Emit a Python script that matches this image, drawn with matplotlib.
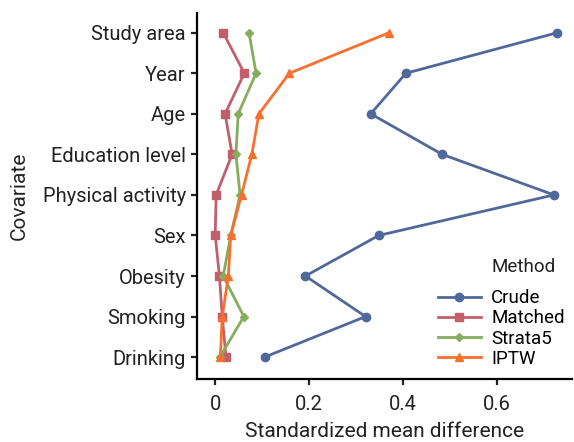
import matplotlib
matplotlib.use("Agg")
import matplotlib.pyplot as plt
import numpy as np

plt.rcParams['font.family'] = ['Liberation Sans Narrow', 'Roboto', 'DejaVu Sans']

# covariates from top to bottom
covariates = ['Study area', 'Year', 'Age', 'Education level', 'Physical activity',
              'Sex', 'Obesity', 'Smoking', 'Drinking']

crude = [0.728, 0.406, 0.331, 0.483, 0.721, 0.348, 0.192, 0.320, 0.105]
matched = [0.017, 0.062, 0.021, 0.036, 0.002, 0.000, 0.009, 0.015, 0.023]
strata5 = [0.072, 0.087, 0.049, 0.044, 0.053, 0.033, 0.017, 0.061, 0.010]
iptw = [0.370, 0.158, 0.093, 0.078, 0.056, 0.033, 0.028, 0.015, 0.011]

methods = ['Crude', 'Matched', 'Strata5', 'IPTW']
valores = [crude, matched, strata5, iptw]
cores = ['#51699a', '#c35f6b', '#85ad5d', '#f7702f']
marcadores = ['o', 's', 'D', '^']
tamanhos = [6, 5.5, 4.5, 5.5]

pos = np.arange(len(covariates), 0, -1)

fig = plt.figure(figsize=(5.74, 4.42), dpi=100)
ax = fig.add_axes([0.343, 0.1425, 0.654, 0.8285])

for nome, v, c, m, s in zip(methods, valores, cores, marcadores, tamanhos):
    ax.plot(v, pos, color=c, marker=m, markersize=s, linewidth=2, label=nome)

ax.set_yticks(pos)
ax.set_yticklabels(covariates)
ax.set_xticks([0, 0.2, 0.4, 0.6])
ax.set_xticklabels(['0', '0.2', '0.4', '0.6'])
ax.set_xlim(-0.039, 0.76)
ax.set_ylim(0.46, 9.49)

for lado in ['top', 'right']:
    ax.spines[lado].set_visible(False)
for lado in ['left', 'bottom']:
    ax.spines[lado].set_linewidth(1.6)
ax.tick_params(axis='both', labelsize=14.5, width=1.6, length=4.5, color='#222222',
               labelcolor='#222222')
ax.tick_params(axis='x', pad=7)

ax.set_xlabel('Standardized mean difference', fontsize=15, color='#222222', labelpad=6)
ax.set_ylabel('Covariate', fontsize=15, color='#222222', labelpad=10)

leg = ax.legend(loc='lower right', frameon=False, fontsize=13.5,
                handlelength=2.3, labelspacing=0.12,
                handletextpad=0.55, borderaxespad=0.0, bbox_to_anchor=(1.0, 0.01))

# titulo da legenda alinhado com os textos (como no original)
fig.canvas.draw()
bb = leg.get_texts()[0].get_window_extent()
x_tit, _ = fig.transFigure.inverted().transform((bb.x0, bb.y1))
fig.text(x_tit, 1 - 267 / 442, 'Method', fontsize=13.5, color='#222222',
         ha='left', va='center')

fig.savefig('out.png', dpi=100)
